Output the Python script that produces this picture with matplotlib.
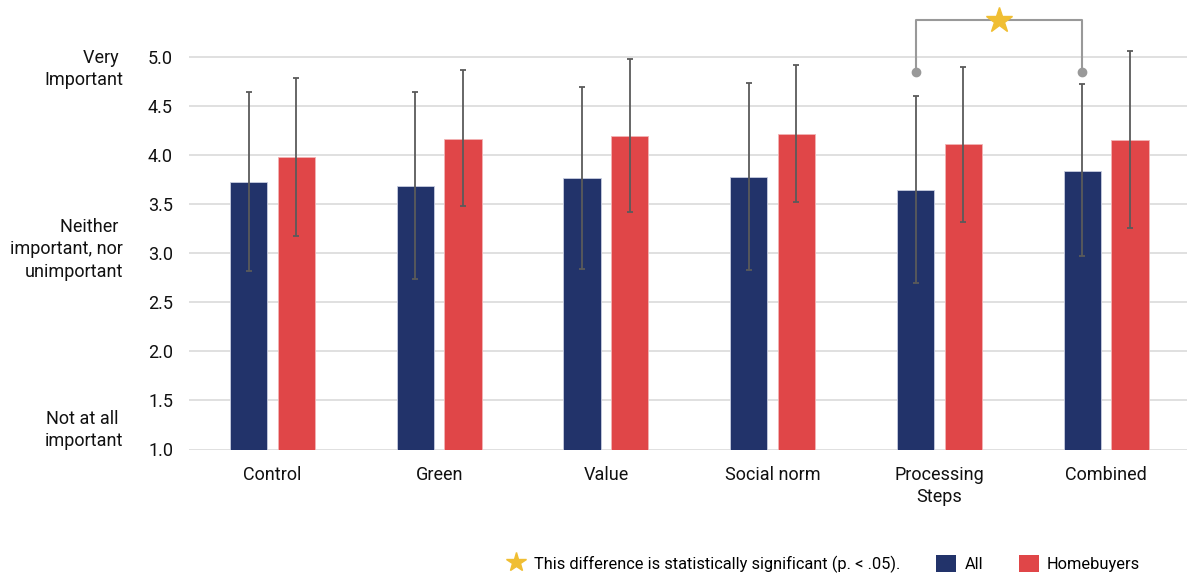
import matplotlib
matplotlib.use("Agg")
import numpy as np
import matplotlib.pyplot as plt
import matplotlib.transforms as mtransforms
from matplotlib.patches import Patch
from matplotlib.lines import Line2D

plt.rcParams['font.family'] = ['Roboto', 'DejaVu Sans']

categories = ["Control", "Green", "Value", "Social norm", "Processing\nSteps", "Combined"]
all_mean = [3.73, 3.69, 3.77, 3.78, 3.65, 3.84]
all_hi = [4.64, 4.64, 4.70, 4.74, 4.60, 4.73]
all_lo = [2.82, 2.74, 2.84, 2.83, 2.70, 2.97]
hb_mean = [3.98, 4.17, 4.20, 4.22, 4.11, 4.16]
hb_hi = [4.79, 4.87, 4.98, 4.92, 4.90, 5.06]
hb_lo = [3.18, 3.48, 3.42, 3.52, 3.32, 3.26]
yticks = [1.0, 1.5, 2.0, 2.5, 3.0, 3.5, 4.0, 4.5, 5.0]
scale_labels = ["Very \nImportant", "Neither \nimportant, nor\nunimportant", "Not at all \nimportant"]
scale_pos = [4.88, 3.04, 1.20]
# significant pair: Processing Steps vs Combined (All)
sig_pair = [4, 5]
sig_dot_y = 4.85
sig_top_y = 5.38

navy = "#22336A"
red = "#E04648"
err_col = "#5a5a5a"
grid_col = "#dddddd"
brk_col = "#999999"
gold = "#F0BE32"

fig = plt.figure(figsize=(11.87, 5.76), dpi=100)
ax = fig.add_axes([189/1187, (576-449.5)/576, 998/1187, 449.5/576])

x = np.arange(len(categories))
off = 0.143
w = 0.224
ax.bar(x - off, all_mean, w, bottom=0, color=navy, edgecolor="#c8cde0", linewidth=0.6, zorder=2)
ax.bar(x + off, hb_mean, w, bottom=0, color=red, edgecolor="#f2b3b4", linewidth=0.6, zorder=2)

all_err = [np.array(all_mean) - np.array(all_lo), np.array(all_hi) - np.array(all_mean)]
hb_err = [np.array(hb_mean) - np.array(hb_lo), np.array(hb_hi) - np.array(hb_mean)]
ax.errorbar(x - off, all_mean, yerr=all_err, fmt='none', ecolor=err_col, elinewidth=1.3, capsize=2.4, capthick=1.3, zorder=3)
ax.errorbar(x + off, hb_mean, yerr=hb_err, fmt='none', ecolor=err_col, elinewidth=1.3, capsize=2.4, capthick=1.3, zorder=3)

ax.set_xlim(-0.5, 5.485)
ax.set_ylim(1.0, 5.583)
ax.set_yticks(yticks)
ax.set_yticklabels(["%.1f" % t for t in yticks])
ax.set_xticks(x)
ax.set_xticklabels(categories, linespacing=1.3)
ax.tick_params(axis='both', length=0, labelsize=13, colors="#111111")
ax.tick_params(axis='y', pad=11.5)
ax.tick_params(axis='x', pad=12)
for s in ax.spines.values():
    s.set_visible(False)
for t in yticks:
    ax.axhline(t, color=grid_col, linewidth=1.3, zorder=1)

# bracket
bx = [x[sig_pair[0]] - off, x[sig_pair[1]] - off]
ax.plot([bx[0], bx[0], bx[1], bx[1]], [sig_dot_y, sig_top_y, sig_top_y, sig_dot_y],
        color=brk_col, linewidth=1.5, zorder=4, clip_on=False)
ax.plot(bx, [sig_dot_y, sig_dot_y], 'o', color=brk_col, markersize=6, linestyle='none', zorder=5, clip_on=False)
ax.plot([np.mean(bx)], [sig_top_y], marker='*', color=gold, markersize=19, linestyle='none', zorder=6, clip_on=False)

# scale descriptors
trans = mtransforms.blended_transform_factory(fig.transFigure, ax.transData)
for lab, yy in zip(scale_labels, scale_pos):
    ax.text(123/1187, yy, lab, transform=trans, ha='right', va='center', fontsize=13,
            linespacing=1.3, color="#111111", multialignment='right')

handles = [Line2D([], [], marker='*', color=gold, markersize=15, linestyle='none'),
           Patch(facecolor=navy), Patch(facecolor=red)]
labels = ["This difference is statistically significant (p. < .05).", "All", "Homebuyers"]
fig.legend(handles, labels, ncol=3, loc='center right', bbox_to_anchor=(1140/1187, 1 - 564/576),
           frameon=False, fontsize=11.8, handlelength=1.2, handleheight=1.2, handletextpad=0.5,
           columnspacing=2.2, borderpad=0, borderaxespad=0)

fig.savefig("out.png", dpi=100)
